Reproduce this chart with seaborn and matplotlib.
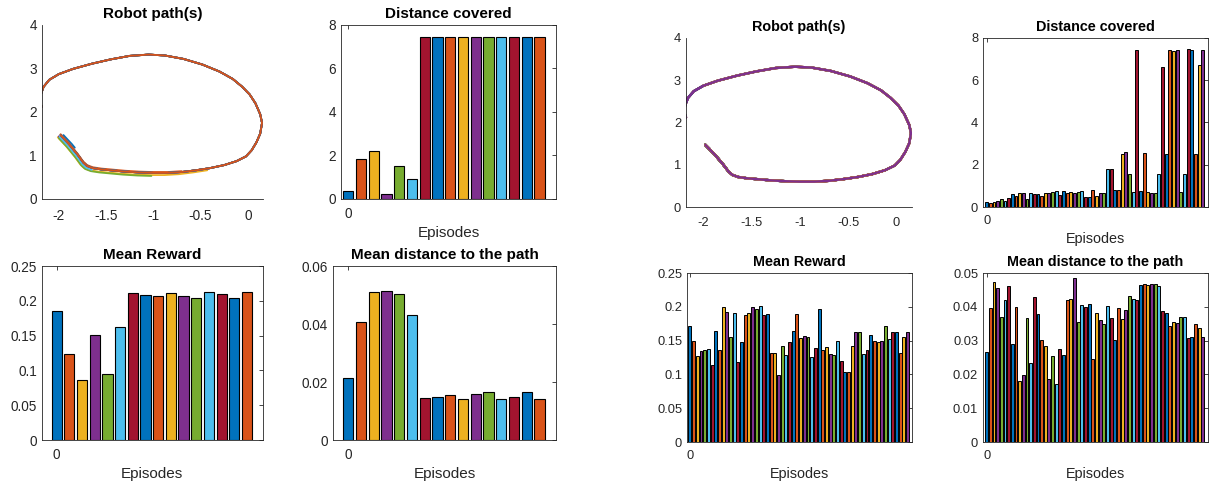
import numpy as np
import pandas as pd
import matplotlib
matplotlib.use("Agg")
import matplotlib.pyplot as plt
import seaborn as sns
from matplotlib.ticker import FuncFormatter

sns.set_style("white")
plt.rcParams["font.family"] = ["Liberation Sans", "DejaVu Sans"]
plt.rcParams["axes.unicode_minus"] = False

# MATLAB default colour order
COLOR_ORDER = ["#0072BD", "#D95319", "#EDB120", "#7E2F8E", "#77AC30", "#4DBEEE", "#A2142F"]
AXIS_GRAY = "#262626"

# Reference track (one full lap), waypoints in metres
track_x = [-1.98, -1.95, -1.92, -1.89, -1.86, -1.83, -1.80, -1.77, -1.74, -1.70,
           -1.64, -1.55, -1.45, -1.30, -1.15, -1.00, -0.85, -0.70, -0.55, -0.40,
           -0.25, -0.12, -0.02, 0.04, 0.09, 0.13, 0.15, 0.13, 0.08, 0.02,
           -0.06, -0.16, -0.30, -0.48, -0.68, -0.88, -1.05, -1.25, -1.45, -1.65,
           -1.85, -2.00, -2.10, -2.16, -2.19, -2.20, -2.18]
track_y = [1.47, 1.40, 1.33, 1.26, 1.18, 1.10, 1.02, 0.93, 0.84, 0.76,
           0.71, 0.68, 0.66, 0.63, 0.61, 0.60, 0.60, 0.62, 0.66, 0.71,
           0.78, 0.87, 0.98, 1.12, 1.30, 1.50, 1.75, 1.95, 2.20, 2.40,
           2.58, 2.76, 2.93, 3.09, 3.22, 3.30, 3.32, 3.29, 3.21, 3.11,
           2.99, 2.87, 2.74, 2.58, 2.40, 2.25, 2.12]
LAP_LENGTH = 7.40

# Run A: 16 episodes
a_distance = [0.35, 1.82, 2.21, 0.21, 1.50, 0.93, 7.46, 7.45, 7.45, 7.46,
              7.46, 7.45, 7.45, 7.46, 7.45, 7.45]
a_reward = [0.186, 0.123, 0.0865, 0.151, 0.0947, 0.162, 0.211, 0.209, 0.207, 0.211,
            0.2065, 0.204, 0.212, 0.210, 0.204, 0.212]
a_path_err = [0.0213, 0.0406, 0.0511, 0.0515, 0.0502, 0.0432, 0.0144, 0.0149, 0.0156, 0.0142,
              0.0158, 0.0167, 0.0142, 0.0148, 0.0166, 0.0142]
a_drift_x = [0.03, 0.0, -0.03, -0.02, -0.02, -0.01, 0.0, 0.0, 0.0, 0.0,
             0.0, 0.0, 0.0, 0.0, 0.0, 0.0]
a_drift_y = [0.0, 0.02, -0.05, -0.03, -0.07, -0.04, 0.0, 0.0, 0.0, 0.0,
             0.0, 0.0, 0.0, 0.0, 0.0, 0.0]

# Run B: 60 episodes
b_distance = [0.24, 0.19, 0.24, 0.27, 0.40, 0.30, 0.44, 0.60, 0.54, 0.65,
              0.65, 0.40, 0.67, 0.60, 0.60, 0.54, 0.68, 0.68, 0.71, 0.76,
              0.59, 0.78, 0.68, 0.71, 0.68, 0.73, 0.76, 0.49, 0.49, 0.79,
              0.54, 0.68, 0.65, 1.81, 1.81, 0.82, 0.79, 2.52, 2.58, 1.57,
              0.73, 7.41, 0.76, 2.57, 0.71, 0.68, 0.67, 1.57, 6.61, 2.50,
              7.41, 7.38, 7.43, 0.73, 1.57, 7.46, 7.43, 2.53, 6.70, 7.44]
b_reward = [0.171, 0.149, 0.127, 0.134, 0.136, 0.137, 0.114, 0.164, 0.136, 0.199,
            0.193, 0.155, 0.191, 0.118, 0.148, 0.188, 0.191, 0.1995, 0.197, 0.201,
            0.188, 0.190, 0.132, 0.131, 0.0995, 0.142, 0.128, 0.148, 0.164, 0.189,
            0.154, 0.157, 0.155, 0.126, 0.139, 0.197, 0.136, 0.140, 0.130, 0.129,
            0.150, 0.120, 0.103, 0.104, 0.142, 0.162, 0.163, 0.130, 0.136, 0.158,
            0.150, 0.148, 0.149, 0.171, 0.153, 0.163, 0.163, 0.132, 0.156, 0.163]
b_path_err = [0.0265, 0.0396, 0.0473, 0.0457, 0.0370, 0.0420, 0.0461, 0.0289, 0.0398, 0.0180,
              0.0197, 0.0366, 0.0234, 0.0428, 0.0379, 0.0301, 0.0283, 0.0187, 0.0253, 0.0172,
              0.0274, 0.0256, 0.0420, 0.0424, 0.0485, 0.0354, 0.0404, 0.0400, 0.0407, 0.0245,
              0.0382, 0.0360, 0.0349, 0.0402, 0.0368, 0.0301, 0.0396, 0.0363, 0.0392, 0.0431,
              0.0424, 0.0421, 0.0465, 0.0467, 0.0464, 0.0467, 0.0466, 0.0462, 0.0388, 0.0382,
              0.0343, 0.0354, 0.0352, 0.0370, 0.0371, 0.0307, 0.0310, 0.0349, 0.0338, 0.0310]

FIG_W, FIG_H = 1209, 486


def rect(x0, y_top, x1, y_bottom):
    """Axes rectangle from pixel edges."""
    return [x0 / FIG_W, 1 - y_bottom / FIG_H, (x1 - x0) / FIG_W, (y_bottom - y_top) / FIG_H]


def episode_palette(n):
    names = [f"ep{i:02d}" for i in range(n)]
    return names, {nm: COLOR_ORDER[i % len(COLOR_ORDER)] for i, nm in enumerate(names)}


def gfmt(v, _pos):
    return f"{v:g}"


def style_box(ax, fs):
    for side in ["left", "right", "top", "bottom"]:
        ax.spines[side].set_visible(True)
        ax.spines[side].set_color(AXIS_GRAY)
        ax.spines[side].set_linewidth(0.6)
    ax.tick_params(direction="in", length=3, width=0.6, top=True, right=True,
                   colors=AXIS_GRAY, labelsize=fs, labelcolor=AXIS_GRAY)
    ax.tick_params(axis="x", pad=6)


def draw_paths(ax, distances, drift_x, drift_y, lw, fs, tfs):
    names, pal = episode_palette(len(distances))
    tx = np.array(track_x)
    ty = np.array(track_y)
    seg = np.hypot(np.diff(tx), np.diff(ty))
    travelled = np.concatenate([[0.0], np.cumsum(seg)]) * LAP_LENGTH / seg.sum()
    frames = []
    for i, d in enumerate(distances):
        keep = travelled <= d + 1e-9
        frames.append(pd.DataFrame({"x": tx[keep] + drift_x[i], "y": ty[keep] + drift_y[i],
                                    "ep": names[i]}))
    df = pd.concat(frames, ignore_index=True)
    sns.lineplot(data=df, x="x", y="y", hue="ep", palette=pal, sort=False,
                 estimator=None, legend=False, linewidth=lw, ax=ax)
    ax.set_xlim(-2.18, 0.16)
    ax.set_ylim(0, 4)
    ax.set_xticks([-2, -1.5, -1, -0.5, 0])
    ax.set_yticks([0, 1, 2, 3, 4])
    ax.xaxis.set_major_formatter(FuncFormatter(gfmt))
    ax.yaxis.set_major_formatter(FuncFormatter(gfmt))
    for side in ["top", "right"]:
        ax.spines[side].set_visible(False)
    for side in ["left", "bottom"]:
        ax.spines[side].set_visible(True)
        ax.spines[side].set_color(AXIS_GRAY)
        ax.spines[side].set_linewidth(0.6)
    ax.tick_params(direction="in", length=3, width=0.6, colors=AXIS_GRAY,
                   labelsize=fs, labelcolor=AXIS_GRAY)
    ax.tick_params(axis="x", pad=7)
    ax.set_xlabel("")
    ax.set_ylabel("")
    ax.set_title("Robot path(s)", fontweight="bold", fontsize=tfs, pad=5, color="black")


def draw_bars(ax, values, title, yticks, xlim, fs, tfs, lfs, lw):
    names, pal = episode_palette(len(values))
    df = pd.DataFrame({"episode": np.arange(len(values)), "value": values, "ep": names})
    sns.barplot(data=df, x="episode", y="value", hue="ep", palette=pal, dodge=False,
                native_scale=True, width=0.8, edgecolor="black", linewidth=lw,
                errorbar=None, legend=False, ax=ax, saturation=1)
    ax.set_xlim(*xlim)
    ax.set_ylim(yticks[0], yticks[-1])
    ax.set_yticks(yticks)
    ax.yaxis.set_major_formatter(FuncFormatter(gfmt))
    ax.set_xticks([0])
    ax.set_xticklabels(["0"])
    style_box(ax, fs)
    ax.set_xlabel("Episodes", fontsize=lfs, color=AXIS_GRAY, labelpad=3.5)
    ax.set_ylabel("")
    ax.set_title(title, fontweight="bold", fontsize=tfs, pad=5, color="black")


fig = plt.figure(figsize=(FIG_W / 100, FIG_H / 100), dpi=100)
fig.patch.set_facecolor("white")

# ---- run A (16 episodes) ----
fsA, tfsA, lfsA = 9.8, 11, 11
axA1 = fig.add_axes(rect(41.7, 25, 263, 199))
draw_paths(axA1, a_distance, a_drift_x, a_drift_y, 1.3, fsA, tfsA)

axA2 = fig.add_axes(rect(341, 25, 556, 199))
draw_bars(axA2, a_distance, "Distance covered", [0, 2, 4, 6, 8], (-0.57, 16.3), fsA, tfsA, lfsA, 0.8)

axA3 = fig.add_axes(rect(41.7, 266, 263, 440))
draw_bars(axA3, a_reward, "Mean Reward", [0, 0.05, 0.1, 0.15, 0.2, 0.25], (-1.18, 16.26), fsA, tfsA, lfsA, 0.8)

axA4 = fig.add_axes(rect(333, 266, 556, 440))
draw_bars(axA4, a_path_err, "Mean distance to the path", [0, 0.02, 0.04, 0.06], (-1.2, 16.3), fsA, tfsA, lfsA, 0.8)

# ---- run B (60 episodes) ----
fsB, tfsB, lfsB = 9.3, 10.4, 10.4
b_drift = [0.0] * len(b_distance)
axB1 = fig.add_axes(rect(686, 38, 912, 207))
draw_paths(axB1, b_distance, b_drift, b_drift, 1.7, fsB, tfsB)

axB2 = fig.add_axes(rect(983, 38, 1208, 207))
draw_bars(axB2, b_distance, "Distance covered", [0, 2, 4, 6, 8], (-1.0, 60.4), fsB, tfsB, lfsB, 0.7)

axB3 = fig.add_axes(rect(687, 273, 912, 442))
draw_bars(axB3, b_reward, "Mean Reward", [0, 0.05, 0.1, 0.15, 0.2, 0.25], (-0.8, 60.2), fsB, tfsB, lfsB, 0.7)

axB4 = fig.add_axes(rect(983, 273, 1208, 442))
draw_bars(axB4, b_path_err, "Mean distance to the path", [0, 0.01, 0.02, 0.03, 0.04, 0.05], (-1.0, 60.4), fsB, tfsB, lfsB, 0.7)

fig.savefig("out.png", dpi=100, facecolor="white")
